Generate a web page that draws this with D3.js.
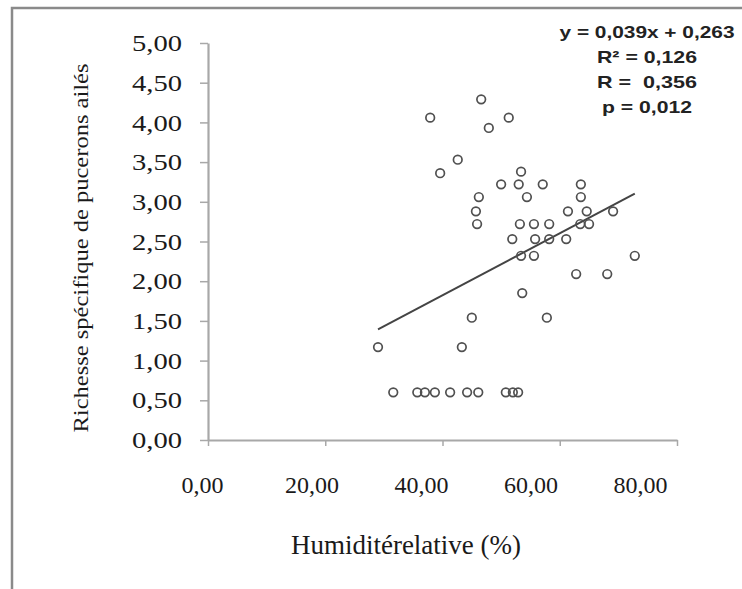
<!DOCTYPE html>
<html>
<head>
<meta charset="utf-8">
<script src="https://cdn.jsdelivr.net/npm/d3@7"></script>
<style>
  body { margin: 0; background: #fff; }
  svg { display: block; }
</style>
</head>
<body>
<div id="chart"></div>
<script>
// humidity (%) and winged aphid species richness
var humidity = [46.6, 37.9, 51.3, 47.9, 42.6, 39.6, 53.4, 50.0, 53.0, 57.1,
  63.6, 46.2, 54.4, 63.6, 45.7, 61.4, 64.6, 69.1, 45.9, 53.2,
  55.6, 58.2, 63.5, 65.0, 51.9, 55.8, 58.2, 61.1, 53.4, 55.6,
  72.8, 62.8, 68.1, 53.6, 45.0, 57.8, 29.0, 43.3,
  31.6, 35.7, 37.0, 38.7, 41.3, 44.2, 46.1, 50.8, 52.0, 52.9]
var richness = [4.29, 4.06, 4.06, 3.93, 3.53, 3.36, 3.38, 3.22, 3.22, 3.22,
  3.22, 3.06, 3.06, 3.06, 2.88, 2.88, 2.88, 2.88, 2.72, 2.72,
  2.72, 2.72, 2.72, 2.72, 2.53, 2.53, 2.53, 2.53, 2.32, 2.32,
  2.32, 2.09, 2.09, 1.85, 1.54, 1.54, 1.17, 1.17,
  0.60, 0.60, 0.60, 0.60, 0.60, 0.60, 0.60, 0.60, 0.60, 0.60]

var xTicks = [0, 20, 40, 60, 80]
var yTicks = [0, 0.5, 1, 1.5, 2, 2.5, 3, 3.5, 4, 4.5, 5]

// regression y = a x + b
var slope = 0.039, intercept = 0.263
var statLines = ["y = 0,039x + 0,263", "R\u00b2 = 0,126", "R =  0,356", "p = 0,012"]

var W = 742, H = 589

var svg = d3.select("#chart").append("svg")
    .attr("width", W)
    .attr("height", H)

// outer frame
svg.append("rect")
  .attr("x", 12).attr("y", 8)
  .attr("width", W).attr("height", H)
  .attr("fill", "#fff")
  .attr("stroke", "#8a8a8a")
  .attr("stroke-width", 2.5)

var xScale = d3.scaleLinear().domain([0, 80]).range([208, 677]),
    yScale = d3.scaleLinear().domain([0, 5]).range([440, 43])
// the printed labels sit a bit left of their ticks in the original
var xLabelScale = d3.scaleLinear().domain([0, 80]).range([202, 640])

var comma = function(d) { return d3.format(".2f")(d).replace(".", ",") }

var axisColor = "#a8a8a8"
var serif = "'Liberation Serif', 'Times New Roman', serif"

var yAxis = svg.append("g")
  .attr("transform", "translate(" + xScale(0) + ",0)")
  .call(d3.axisLeft(yScale).tickValues(yTicks).tickSize(8).tickSizeOuter(0).tickPadding(18).tickFormat(comma))
yAxis.select(".domain").attr("stroke", axisColor).attr("stroke-width", 2.2)
yAxis.selectAll(".tick line").attr("stroke", axisColor).attr("stroke-width", 1.5)
yAxis.selectAll("text")
  .style("font-family", serif)
  .style("font-size", "24px")
  .attr("textLength", 50)
  .attr("lengthAdjust", "spacingAndGlyphs")
  .attr("fill", "#1a1a1a")

var xAxis = svg.append("g")
  .attr("transform", "translate(0," + yScale(0) + ")")
  .call(d3.axisBottom(xScale).tickValues(xTicks).tickSize(6).tickSizeOuter(0).tickFormat(""))
xAxis.select(".domain").attr("stroke", axisColor).attr("stroke-width", 2.2)
xAxis.selectAll(".tick line").attr("stroke", axisColor).attr("stroke-width", 1.5)

var xLabels = svg.append("g")
  .attr("transform", "translate(0," + yScale(0) + ")")
  .call(d3.axisBottom(xLabelScale).tickValues(xTicks).tickSize(0).tickPadding(36).tickFormat(comma))
xLabels.select(".domain").remove()
xLabels.selectAll("text")
  .style("font-family", serif)
  .style("font-size", "24px")
  .attr("fill", "#1a1a1a")

// regression line over the data range
var xExtent = d3.extent(humidity)
var line = d3.line()
  .x(function(d) { return xScale(d) })
  .y(function(d) { return yScale(slope * d + intercept) })
svg.append("path")
  .attr("d", line(xExtent))
  .attr("fill", "none")
  .attr("stroke", "#444")
  .attr("stroke-width", 2)

svg.append("g").selectAll("circle")
  .data(humidity)
  .enter().append("circle")
  .attr("cx", function(d) { return xScale(d) })
  .attr("cy", function(d, i) { return yScale(richness[i]) })
  .attr("r", 4.3)
  .attr("fill", "none")
  .attr("stroke", "#505050")
  .attr("stroke-width", 1.7)

// stats block
var statWidths = [175, 100, 100, 90]
svg.append("g").selectAll("text")
  .data(statLines)
  .enter().append("text")
  .attr("x", 647)
  .attr("y", function(d, i) { return 38 + i * 25 })
  .attr("text-anchor", "middle")
  .attr("textLength", function(d, i) { return statWidths[i] })
  .attr("lengthAdjust", "spacingAndGlyphs")
  .style("white-space", "pre")
  .style("font-family", "'Liberation Sans', Arial, sans-serif")
  .style("font-weight", "bold")
  .style("font-size", "17px")
  .attr("fill", "#222")
  .text(function(d) { return d })

svg.append("text")
  .attr("x", 406).attr("y", 554)
  .attr("text-anchor", "middle")
  .style("font-family", serif)
  .style("font-size", "27px")
  .attr("fill", "#1a1a1a")
  .text("Humiditérelative (%)")

svg.append("text")
  .attr("transform", "translate(88,248) rotate(-90)")
  .attr("text-anchor", "middle")
  .attr("textLength", 369)
  .attr("lengthAdjust", "spacingAndGlyphs")
  .style("font-family", serif)
  .style("font-size", "21px")
  .attr("fill", "#1a1a1a")
  .text("Richesse spécifique de pucerons ailés")
</script>
</body>
</html>
